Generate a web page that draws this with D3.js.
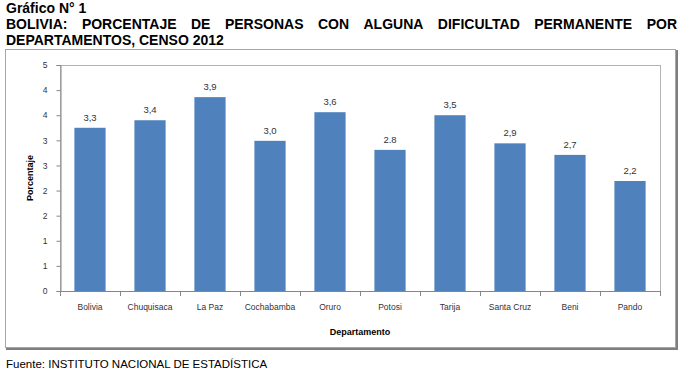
<!DOCTYPE html>
<html>
<head>
<meta charset="utf-8">
<script src="https://cdn.jsdelivr.net/npm/d3@7"></script>
<style>
  body { margin: 0; background: #fff; }
  text { font-family: Arial, "Liberation Sans", sans-serif; }
</style>
</head>
<body>
<div id="chart"></div>
<script>
// data
var departamentos = ["Bolivia", "Chuquisaca", "La Paz", "Cochabamba", "Oruro",
    "Potosi", "Tarija", "Santa Cruz", "Beni", "Pando"];
var porcentajes = [3.25, 3.40, 3.86, 2.99, 3.56, 2.81, 3.50, 2.94, 2.71, 2.19];
var etiquetas = ["3,3", "3,4", "3,9", "3,0", "3,6", "2.8", "3,5", "2,9", "2,7", "2,2"];
var yTicks = [0, 0.5, 1, 1.5, 2, 2.5, 3, 3.5, 4, 4.5];
var yTickLabels = ["0", "1", "1", "2", "2", "3", "3", "4", "4", "5"];

var svgWidth = 684;
var svgHeight = 371;

// plot area inside the frame
var plot = { left: 60, right: 660, top: 65, bottom: 291 };

var svg = d3.select("#chart")
    .append("svg")
    .attr("width", svgWidth)
    .attr("height", svgHeight);

// ----------------------------------------------
// Titles
// ----------------------------------------------
svg.append("text")
    .attr("x", 6)
    .attr("y", 13)
    .attr("font-size", 14)
    .attr("font-weight", "bold")
    .text("Gráfico N° 1");

// justified first title line
function justifiedLine(str, x0, x1, y) {
    var words = str.split(" ");
    var g = svg.append("g");
    var nodes = words.map(w => g.append("text")
        .attr("y", y)
        .attr("font-size", 14)
        .attr("font-weight", "bold")
        .text(w));
    var widths = nodes.map(n => n.node().getComputedTextLength());
    var gap = (x1 - x0 - d3.sum(widths)) / (words.length - 1);
    var x = x0;
    nodes.forEach((n, i) => {
        n.attr("x", x);
        x += widths[i] + gap;
    });
}
justifiedLine("BOLIVIA: PORCENTAJE DE PERSONAS CON ALGUNA DIFICULTAD PERMANENTE POR", 6, 677, 29);

svg.append("text")
    .attr("x", 6)
    .attr("y", 45)
    .attr("font-size", 14)
    .attr("font-weight", "bold")
    .text("DEPARTAMENTOS, CENSO 2012");

// ----------------------------------------------
// Frame with shadow
// ----------------------------------------------
svg.append("rect")
    .attr("x", 5.5)
    .attr("y", 49.5)
    .attr("width", 670)
    .attr("height", 298)
    .attr("fill", "none")
    .attr("stroke", "#a6a6a6");
svg.append("path")
    .attr("d", "M677,50 V349 H6")
    .attr("fill", "none")
    .attr("stroke", "#7f7f7f")
    .attr("stroke-width", 2);

// ----------------------------------------------
// Scales and axes
// ----------------------------------------------
var xBand = d3.scaleBand()
    .domain(departamentos)
    .range([plot.left, plot.right])
    .paddingInner(0.48)
    .paddingOuter(0.24);

var yLinear = d3.scaleLinear()
    .domain([0, 4.5])
    .range([plot.bottom, plot.top]);

// plot area border
svg.append("rect")
    .attr("x", plot.left + 0.5)
    .attr("y", plot.top + 0.5)
    .attr("width", plot.right - plot.left)
    .attr("height", plot.bottom - plot.top)
    .attr("fill", "none")
    .attr("stroke", "#b3b3b3");

// bars
svg.selectAll(".bar")
    .data(porcentajes)
    .enter()
    .append("rect")
    .classed("bar", true)
    .attr("x", (d, i) => xBand(departamentos[i]))
    .attr("y", d => yLinear(d))
    .attr("width", xBand.bandwidth())
    .attr("height", d => plot.bottom - yLinear(d))
    .attr("fill", "#4f81bd");

// value labels
svg.selectAll(".valLabel")
    .data(porcentajes)
    .enter()
    .append("text")
    .classed("valLabel", true)
    .attr("x", (d, i) => xBand(departamentos[i]) + xBand.bandwidth() / 2)
    .attr("y", d => yLinear(d) - 7)
    .attr("text-anchor", "middle")
    .attr("font-size", 9.5)
    .attr("fill", "#333")
    .text((d, i) => etiquetas[i]);

// y axis
var yAxis = d3.axisLeft(yLinear)
    .tickValues(yTicks)
    .tickFormat((d, i) => yTickLabels[i])
    .tickSize(4)
    .tickPadding(9);
var yAxisG = svg.append("g")
    .attr("transform", `translate(${plot.left + 0.5},0)`)
    .call(yAxis);
yAxisG.select(".domain").attr("stroke", "#868686");
yAxisG.selectAll(".tick line").attr("stroke", "#868686");
yAxisG.selectAll(".tick text")
    .attr("font-size", 8.5)
    .attr("font-family", "Arial, 'Liberation Sans', sans-serif")
    .attr("fill", "#333");

// x axis: baseline, ticks at category boundaries
var xAxisG = svg.append("g");
xAxisG.append("line")
    .attr("x1", plot.left)
    .attr("x2", plot.right + 1)
    .attr("y1", plot.bottom + 0.5)
    .attr("y2", plot.bottom + 0.5)
    .attr("stroke", "#868686");
var step = xBand.step();
xAxisG.selectAll(".xtick")
    .data(d3.range(departamentos.length + 1))
    .enter()
    .append("line")
    .attr("x1", i => Math.round(plot.left + i * step) + 0.5)
    .attr("x2", i => Math.round(plot.left + i * step) + 0.5)
    .attr("y1", plot.bottom)
    .attr("y2", plot.bottom + 5)
    .attr("stroke", "#868686");
xAxisG.selectAll(".xlabel")
    .data(departamentos)
    .enter()
    .append("text")
    .attr("x", d => xBand(d) + xBand.bandwidth() / 2)
    .attr("y", 310)
    .attr("text-anchor", "middle")
    .attr("font-size", 8.5)
    .attr("fill", "#333")
    .text(d => d);

// axis titles
svg.append("text")
    .attr("x", (plot.left + plot.right) / 2)
    .attr("y", 335)
    .attr("text-anchor", "middle")
    .attr("font-size", 9)
    .attr("font-weight", "bold")
    .text("Departamento");

svg.append("text")
    .attr("transform", `translate(33,${(plot.top + plot.bottom) / 2}) rotate(-90)`)
    .attr("text-anchor", "middle")
    .attr("font-size", 9)
    .attr("font-weight", "bold")
    .text("Porcentaje");

// source
svg.append("text")
    .attr("x", 6)
    .attr("y", 368)
    .attr("font-size", 11.5)
    .text("Fuente: INSTITUTO NACIONAL DE ESTADÍSTICA");
</script>
</body>
</html>
